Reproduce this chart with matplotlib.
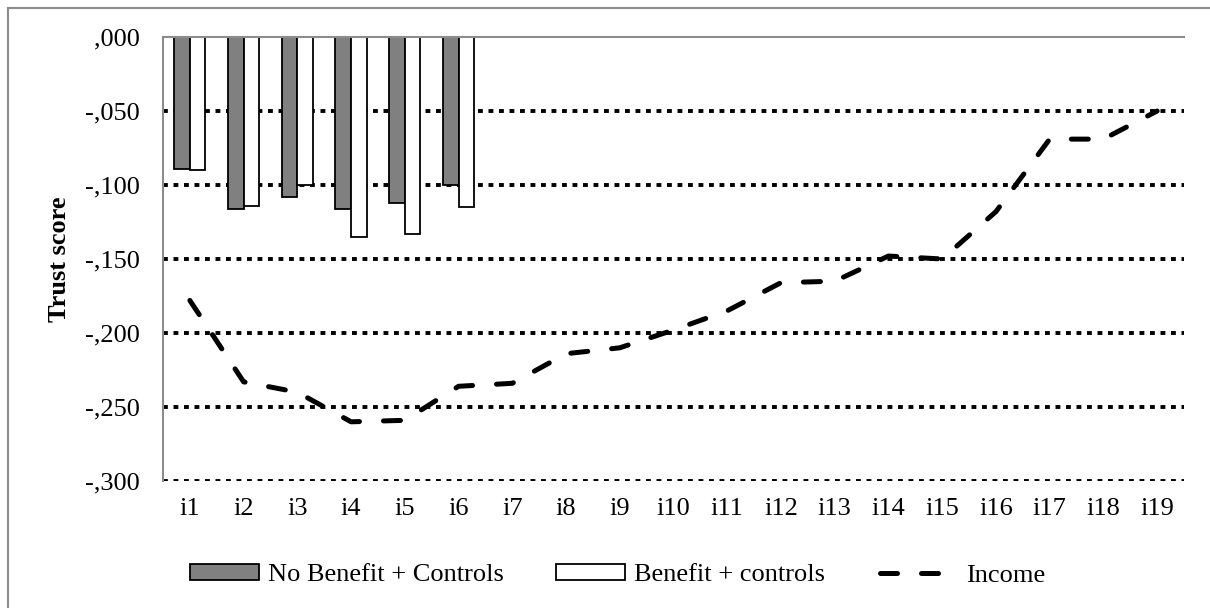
import matplotlib.pyplot as plt
import numpy as np
from matplotlib.lines import Line2D
from matplotlib.patches import Patch

# data
categories = ["i%d" % k for k in range(1, 20)]
no_benefit = [-0.089, -0.116, -0.108, -0.116, -0.112, -0.100]
benefit = [-0.090, -0.114, -0.100, -0.135, -0.133, -0.115]
income = [-0.178, -0.233, -0.240, -0.260, -0.259, -0.236, -0.234, -0.214, -0.210,
          -0.198, -0.185, -0.166, -0.165, -0.148, -0.150, -0.118, -0.069, -0.069, -0.050]
yticks = [0.0, -0.05, -0.10, -0.15, -0.20, -0.25, -0.30]
ytick_labels = [",000", "-,050", "-,100", "-,150", "-,200", "-,250", "-,300"]

plt.rcParams["font.family"] = ["Liberation Serif", "DejaVu Serif"]
axis_grey = "#8c8c8c"
income_style = dict(color="black", lw=3.6, linestyle=(0, (3.4, 4.8)), dash_capstyle="round")

fig = plt.figure(figsize=(12.1, 6.08), dpi=100)
ax = fig.add_axes([163 / 1210, 1 - 481 / 608, (1184 - 163) / 1210, (481 - 37) / 608])

x = np.arange(len(categories))
w = 0.29
xb = np.arange(len(no_benefit))

# dotted gridlines
for yv in yticks[1:]:
    ax.axhline(yv, color="black", lw=2.8, linestyle=(0, (1.25, 1.45)), zorder=1)

ax.bar(xb - w / 2, no_benefit, w, color="#808080", edgecolor="black", lw=1.3, zorder=2)
ax.bar(xb + w / 2, benefit, w, color="white", edgecolor="black", lw=1.3, zorder=2)
ax.plot(x, income, solid_joinstyle="round", zorder=3, **income_style)

ax.set_xlim(-0.5, len(categories) - 0.5)
ax.set_ylim(-0.3, 0.0)
ax.set_xticks(x)
ax.set_xticklabels(categories, fontsize=19)
ax.set_yticks(yticks)
ax.set_yticklabels(ytick_labels, fontsize=19)
ax.tick_params(axis="x", length=0, pad=12)
ax.tick_params(axis="y", length=0, pad=17)
ax.set_ylabel("Trust score", fontsize=19, fontweight="bold", labelpad=10)

for side in ["right", "bottom"]:
    ax.spines[side].set_visible(False)
for side in ["left", "top"]:
    ax.spines[side].set_color(axis_grey)
    ax.spines[side].set_linewidth(1.5)

# legend, three entries placed like the original
h1 = Patch(facecolor="#808080", edgecolor="black", lw=1.3)
h2 = Patch(facecolor="white", edgecolor="black", lw=1.3)
h3 = Line2D([0], [0], **income_style)
common = dict(frameon=False, fontsize=19, handletextpad=0.35, borderpad=0, borderaxespad=0,
              loc="center left")
fig.legend([h1], ["No Benefit + Controls"], bbox_to_anchor=(190 / 1210, 1 - 575 / 608),
           handlelength=2.6, handleheight=0.55, **common)
fig.legend([h2], ["Benefit + controls"], bbox_to_anchor=(556 / 1210, 1 - 575 / 608),
           handlelength=2.6, handleheight=0.55, **common)
fig.legend([h3], ["Income"], bbox_to_anchor=(880 / 1210, 1 - 575 / 608),
           handlelength=2.9, **common)

# chart border (left and top visible)
fig.add_artist(Line2D([8 / 1210, 8 / 1210], [0, 1 - 8 / 608], transform=fig.transFigure,
                      color=axis_grey, lw=1.5))
fig.add_artist(Line2D([8 / 1210, 1], [1 - 8 / 608, 1 - 8 / 608], transform=fig.transFigure,
                      color=axis_grey, lw=1.5))

fig.savefig("out.png", dpi=100)
